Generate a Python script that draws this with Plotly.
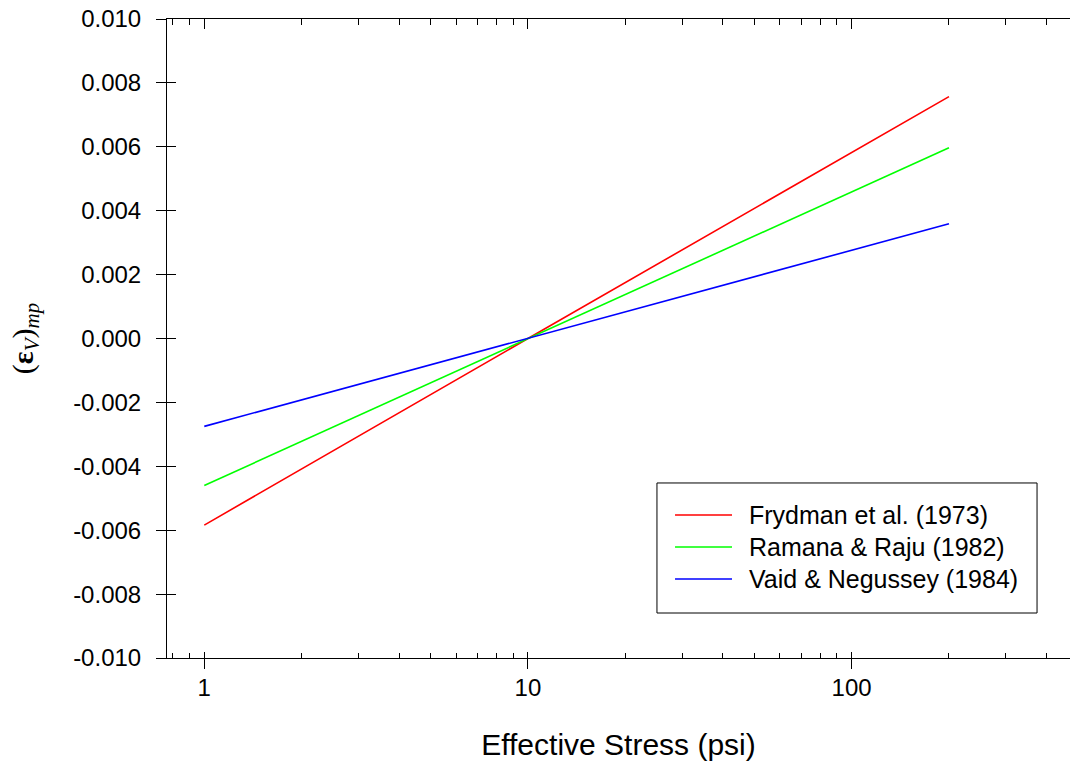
import plotly.graph_objects as go

# ---- data ----
stress = [1, 10, 200]
frydman = [-0.00584, 0.0, 0.00757]
ramana = [-0.00460, 0.0, 0.00597]
vaid = [-0.00275, 0.0, 0.00359]
series_names = ["Frydman et al. (1973)", "Ramana & Raju (1982)", "Vaid & Negussey (1984)"]
series_colors = ["#ff0000", "#00ff00", "#0000ff"]

y_tickvals = [-0.010, -0.008, -0.006, -0.004, -0.002, 0.0, 0.002, 0.004, 0.006, 0.008, 0.010]
y_ticktext = ["-0.010", "-0.008", "-0.006", "-0.004", "-0.002", "0.000",
              "0.002", "0.004", "0.006", "0.008", "0.010"]
x_tickvals = [1, 10, 100]
x_ticktext = ["1", "10", "100"]
x_minor = [0.8, 0.9, 2, 3, 4, 5, 6, 7, 8, 9, 20, 30, 40, 50, 60, 70, 80, 90, 200, 300, 400]

FONT = "Liberation Sans, Arial, sans-serif"
XR = [-0.1152, 2.675]
YR = [-0.010, 0.010]

fig = go.Figure()
for name, vals, col in zip(series_names, [frydman, ramana, vaid], series_colors):
    fig.add_trace(go.Scatter(x=stress, y=vals, mode="lines", name=name,
                             line=dict(color=col, width=1.6), hoverinfo="skip",
                             showlegend=False))

# empty helper traces so overlay axes get drawn
fig.add_trace(go.Scatter(x=[], y=[], xaxis="x2", yaxis="y", showlegend=False))
fig.add_trace(go.Scatter(x=[], y=[], xaxis="x3", yaxis="y", showlegend=False))
fig.add_trace(go.Scatter(x=[], y=[], xaxis="x", yaxis="y2", showlegend=False))

# ---- legend box (drawn in paper coordinates) ----
box_x = [0.5426, 0.9635]
box_y = [0.0704, 0.2739]
leg_line_x = [0.5626, 0.6257]
leg_text_x = 0.6423
leg_rows_y = [0.2238, 0.1737, 0.1236]

fig.add_shape(type="rect", xref="paper", yref="paper",
              x0=box_x[0], x1=box_x[1], y0=box_y[0], y1=box_y[1],
              line=dict(color="black", width=1), fillcolor="white", layer="above")
for name, col, ry in zip(series_names, series_colors, leg_rows_y):
    fig.add_shape(type="line", xref="paper", yref="paper",
                  x0=leg_line_x[0], x1=leg_line_x[1], y0=ry, y1=ry,
                  line=dict(color=col, width=1.6), layer="above")
    fig.add_annotation(xref="paper", yref="paper", x=leg_text_x, y=ry,
                       xanchor="left", yanchor="middle", showarrow=False,
                       text=name, font=dict(family=FONT, size=25, color="black"))

fig.update_layout(
    width=1070, height=765,
    margin=dict(l=167, r=0, t=19, b=107),
    plot_bgcolor="white", paper_bgcolor="white",
    font=dict(family=FONT, size=24, color="black"),
    showlegend=False,
    xaxis=dict(type="log", range=XR, autorange=False,
               showline=True, linecolor="black", linewidth=1,
               showgrid=False, zeroline=False,
               ticks="outside", ticklen=10, tickcolor="black", tickwidth=1,
               tickvals=x_tickvals, ticktext=x_ticktext,
               ticklabelstandoff=-2,
               tickfont=dict(family=FONT, size=24, color="black"),
               minor=dict(tickvals=x_minor, ticks="inside", ticklen=5,
                          tickcolor="black", tickwidth=1, showgrid=False),
               title=dict(text="Effective Stress (psi)", standoff=34,
                          font=dict(family=FONT, size=30, color="black"))),
    xaxis2=dict(type="log", range=XR, autorange=False, overlaying="x", anchor="y",
                side="bottom", showline=False, showgrid=False, zeroline=False,
                ticks="inside", ticklen=6, tickcolor="black", tickwidth=1,
                tickvals=x_tickvals, showticklabels=False),
    xaxis3=dict(type="log", range=XR, autorange=False, overlaying="x", anchor="y",
                side="top", showline=True, linecolor="black", linewidth=1,
                showgrid=False, zeroline=False,
                ticks="inside", ticklen=10, tickcolor="black", tickwidth=1,
                tickvals=x_tickvals, showticklabels=False,
                minor=dict(tickvals=x_minor, ticks="inside", ticklen=6,
                           tickcolor="black", tickwidth=1, showgrid=False)),
    yaxis=dict(range=YR, autorange=False,
               showline=True, linecolor="black", linewidth=1,
               showgrid=False, zeroline=False,
               ticks="outside", ticklen=10, tickcolor="black", tickwidth=1,
               tickvals=y_tickvals, ticktext=y_ticktext,
               ticklabelstandoff=10,
               tickfont=dict(family=FONT, size=24, color="black"),
               title=dict(text="(<b>ε</b><sub><i>V</i></sub>)<sub><i>mp</i></sub>",
                          standoff=30,
                          font=dict(family="Liberation Serif, Times New Roman, serif",
                                    size=30, color="black"))),
    yaxis2=dict(range=YR, autorange=False, overlaying="y", anchor="x", side="left",
                showline=False, showgrid=False, zeroline=False,
                ticks="inside", ticklen=9, tickcolor="black", tickwidth=1,
                tickvals=y_tickvals, showticklabels=False),
)

fig.write_html("out.html")
